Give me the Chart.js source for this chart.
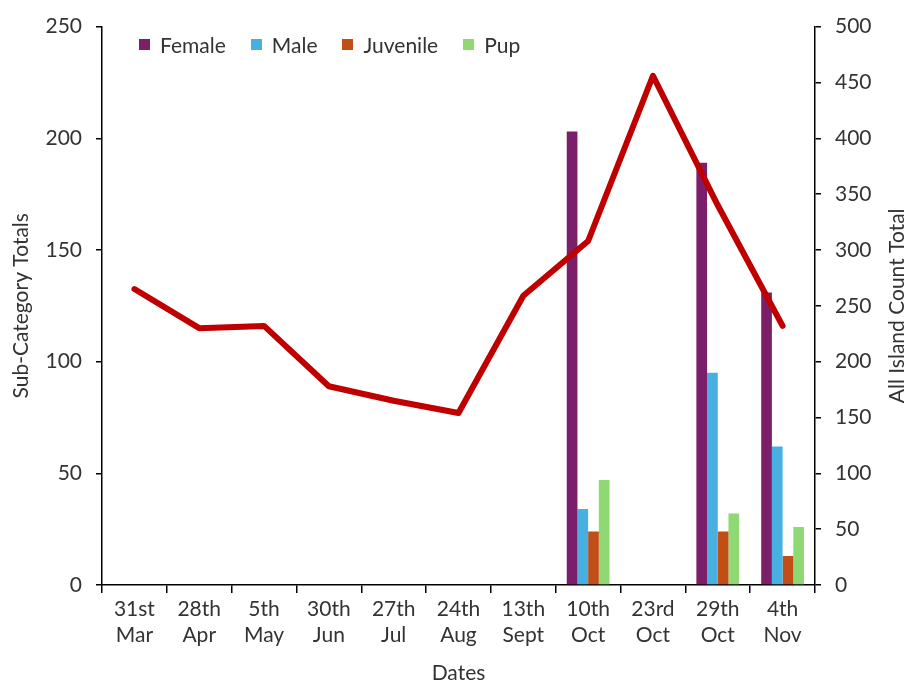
<!DOCTYPE html>
<html>
<head>
<meta charset="utf-8">
<title>Island Counts</title>
<script src="https://cdn.jsdelivr.net/npm/chart.js@4/dist/chart.umd.min.js"></script>
<style>
  html, body { margin: 0; padding: 0; background: #fff; }
  #wrap { position: relative; width: 909px; height: 684px; }
  #legend {
    position: absolute; left: 139px; top: 32px;
    display: flex; font: 21px Lato, sans-serif; color: #333;
  }
  #legend span.item { display: flex; align-items: center; margin-right: 25px; }
  #legend span.box { width: 11px; height: 11px; margin-right: 10px; display: inline-block; }
</style>
</head>
<body>
<div id="wrap">
  <canvas id="chart" width="909" height="684"></canvas>
  <div id="legend"></div>
</div>
<script>
const dates = [
  ["31st", "Mar"], ["28th", "Apr"], ["5th", "May"], ["30th", "Jun"],
  ["27th", "Jul"], ["24th", "Aug"], ["13th", "Sept"], ["10th", "Oct"],
  ["23rd", "Oct"], ["29th", "Oct"], ["4th", "Nov"]
];
const female   = [null, null, null, null, null, null, null, 203, null, 189, 131];
const male     = [null, null, null, null, null, null, null, 34, null, 95, 62];
const juvenile = [null, null, null, null, null, null, null, 24, null, 24, 13];
const pup      = [null, null, null, null, null, null, null, 47, null, 32, 26];
const islandTotal = [265, 230, 232, 178, 165, 154, 259, 308, 456, 340, 232];

const leftTicks = [0, 50, 100, 150, 200, 250];
const rightTicks = [0, 50, 100, 150, 200, 250, 300, 350, 400, 450, 500];

const FONT = "Lato, sans-serif";
const TEXT = "#333";

const barSeries = [
  { label: "Female", data: female, color: "#7B1F6A" },
  { label: "Male", data: male, color: "#48B0E0" },
  { label: "Juvenile", data: juvenile, color: "#C24E17" },
  { label: "Pup", data: pup, color: "#8FD974" }
];

// legend sits inside the plot, top-left
const legendEl = document.getElementById("legend");
barSeries.forEach(function (s) {
  const item = document.createElement("span");
  item.className = "item";
  item.innerHTML = `<span class="box" style="background:${s.color}"></span>${s.label}`;
  legendEl.appendChild(item);
});

// right axis title reads bottom-to-top
const rightTitle = {
  id: "rightTitle",
  afterDraw(chart) {
    const ctx = chart.ctx;
    const area = chart.chartArea;
    ctx.save();
    ctx.translate(897, (area.top + area.bottom) / 2);
    ctx.rotate(-Math.PI / 2);
    ctx.font = "21px " + FONT;
    ctx.fillStyle = TEXT;
    ctx.textAlign = "center";
    ctx.textBaseline = "middle";
    ctx.fillText("All Island Count Total", 0, 0);
    ctx.restore();
  }
};

const datasets = barSeries.map(function (s) {
  return {
    type: "bar",
    label: s.label,
    data: s.data,
    backgroundColor: s.color,
    yAxisID: "y",
    order: 1,
    barPercentage: 1,
    categoryPercentage: 0.66
  };
});
datasets.push({
  type: "line",
  label: "All Island Count Total",
  data: islandTotal,
  yAxisID: "y2",
  borderColor: "#C00000",
  borderWidth: 6,
  borderCapStyle: "round",
  borderJoinStyle: "round",
  pointRadius: 0,
  tension: 0,
  order: 0
});

new Chart(document.getElementById("chart"), {
  type: "bar",
  data: { labels: dates, datasets: datasets },
  plugins: [rightTitle],
  options: {
    responsive: false,
    animation: false,
    layout: { padding: { top: 23, left: 0, right: 0, bottom: 0 } },
    plugins: { legend: { display: false }, tooltip: { enabled: false } },
    scales: {
      x: {
        offset: true,
        grid: { offset: true, drawOnChartArea: false, color: "#000", tickLength: 8, lineWidth: 1.5 },
        border: { color: "#000", width: 1.5 },
        ticks: { color: TEXT, font: { family: FONT, size: 21, lineHeight: 1.2 }, padding: 4, maxRotation: 0, autoSkip: false },
        title: { display: true, text: "Dates", color: TEXT, font: { family: FONT, size: 21, lineHeight: 1 }, padding: 0 },
        afterFit(scale) { scale.height = 99; }
      },
      y: {
        position: "left",
        min: 0, max: 250,
        afterBuildTicks(scale) { scale.ticks = leftTicks.map(v => ({ value: v })); },
        grid: { drawOnChartArea: false, color: "#000", tickLength: 6, lineWidth: 1.5 },
        border: { color: "#000", width: 1.5 },
        ticks: { color: TEXT, font: { family: FONT, size: 21 }, padding: 14 },
        title: { display: true, text: "Sub-Category Totals", color: TEXT, font: { family: FONT, size: 21, lineHeight: 1 }, padding: { top: 11, bottom: 0 } },
        afterFit(scale) { scale.width = 102; }
      },
      y2: {
        position: "right",
        min: 0, max: 500,
        afterBuildTicks(scale) { scale.ticks = rightTicks.map(v => ({ value: v })); },
        grid: { drawOnChartArea: false, color: "#000", tickLength: 6, lineWidth: 1.5 },
        border: { color: "#000", width: 1.5 },
        ticks: { color: TEXT, font: { family: FONT, size: 21 }, padding: 14 },
        afterFit(scale) { scale.width = 94; }
      }
    }
  }
});
</script>
</body>
</html>
